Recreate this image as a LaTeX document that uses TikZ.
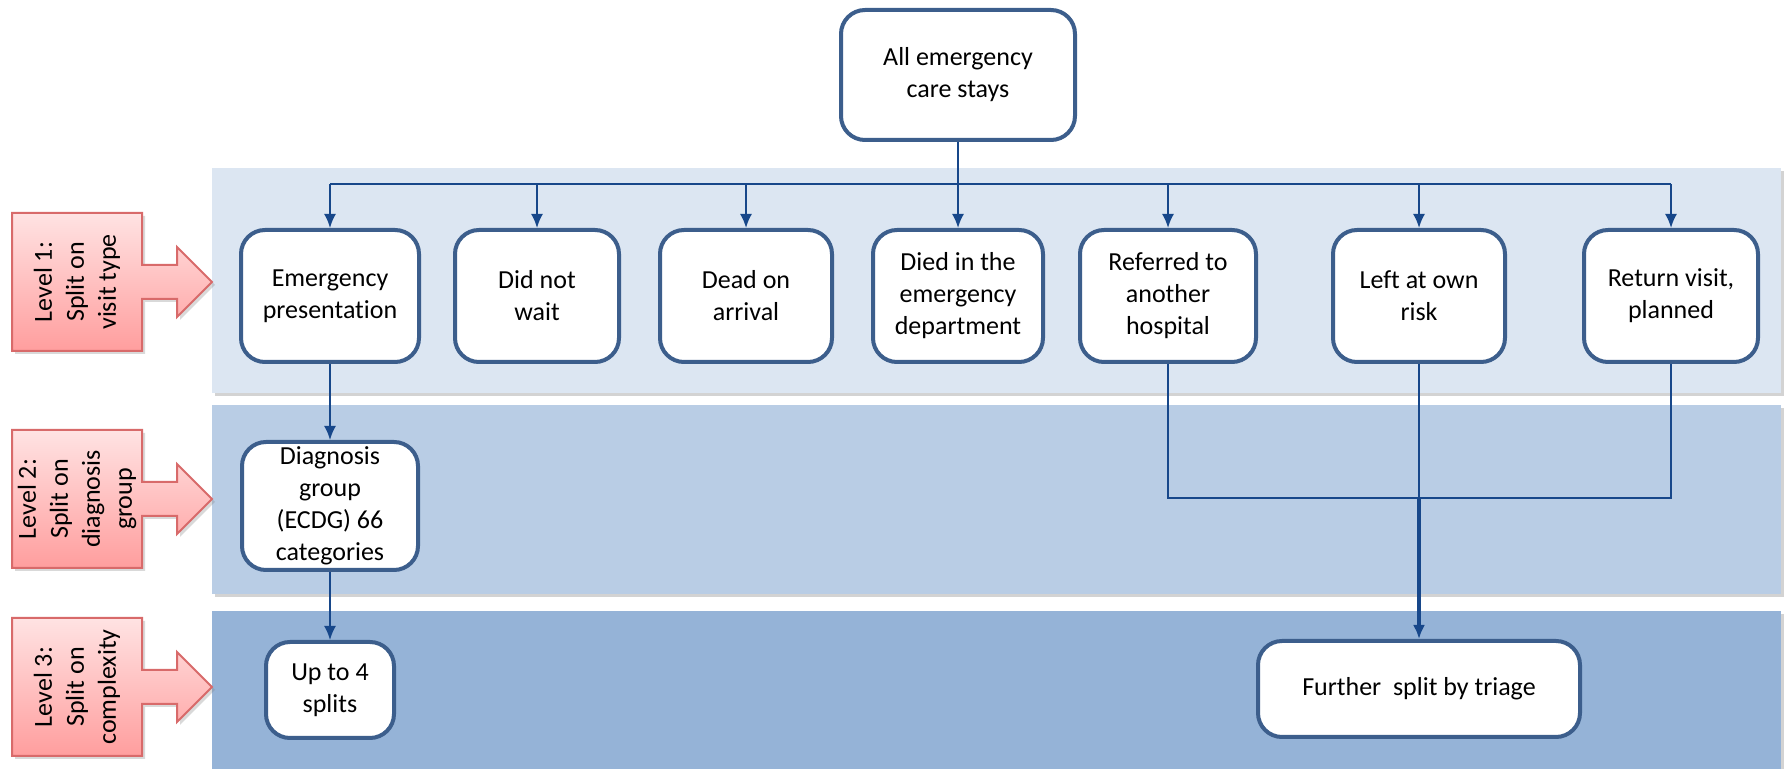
\documentclass[tikz,border=0pt]{standalone}
\usepackage{fontspec}
\setmainfont{Carlito}[Ligatures={NoCommon}]
\usetikzlibrary{arrows.meta,shadows}

\definecolor{bandA}{HTML}{DCE6F2}
\definecolor{bandB}{HTML}{B9CDE5}
\definecolor{bandC}{HTML}{95B3D7}
\definecolor{boxline}{HTML}{3C5E8C}
\definecolor{connline}{HTML}{17478A}
\definecolor{redline}{HTML}{D86A6A}
\definecolor{redtop}{HTML}{FFE3E3}
\definecolor{redbot}{HTML}{FF9E9E}

\begin{document}
\begin{tikzpicture}[x=0.5pt, y=-0.5pt,
    font=\fontsize{13}{16}\selectfont,
    band/.style={drop shadow={shadow xshift=1.5pt, shadow yshift=-1.5pt, opacity=0.35}},
    stay/.style={draw=boxline, line width=2pt, fill=white, rounded corners=12pt, align=center, inner sep=0pt},
    visit/.style={stay, minimum height=66pt},
    lvl/.style={draw=redline, line width=1pt, top color=redtop, bottom color=redbot,
        drop shadow={shadow xshift=1.5pt, shadow yshift=-1.5pt, opacity=0.3}},
    conn/.style={draw=connline, line width=1pt},
    arr/.style={conn, -{Latex[length=7pt, width=6pt]}}]
    \useasboundingbox (0,0) rectangle (1785,769);

    \fill[band, fill=bandA] (212,168) rectangle (1781,393);
    \fill[band, fill=bandB] (212,405) rectangle (1781,594);
    \fill[band, fill=bandC] (212,611) rectangle (1781,769);

    \foreach \y/\txt [count=\i] in {282/{Level 1:\\Split on\\visit type},
        499/{Level 2:\\Split on\\diagnosis\\group}, 687/{Level 3:\\Split on\\complexity}} {
        \path[lvl] (12,\y-69) -- (142,\y-69) -- (142,\y-17) -- (177,\y-17) -- (177,\y-35)
            -- (212,\y) -- (177,\y+35) -- (177,\y+17) -- (142,\y+17) -- (142,\y+69)
            -- (12,\y+69) -- cycle;
        \node[rotate=90, align=center] (lvl\i) at (77,\y) {\txt};
    }

    \node[stay, minimum width=117pt, minimum height=65pt] (all) at (958,75) {All emergency\\care stays};

    \node[visit, minimum width=89pt] (emerg) at (330,296) {Emergency\\presentation};
    \node[visit, minimum width=82pt] (dnw) at (537,296) {Did not\\wait};
    \node[visit, minimum width=86pt] (doa) at (746,296) {Dead on\\arrival};
    \node[visit, minimum width=85pt] (died) at (958,296) {Died in the\\emergency\\department};
    \node[visit, minimum width=88pt] (ref) at (1168,296) {Referred to\\another\\hospital};
    \node[visit, minimum width=86pt] (lar) at (1419,296) {Left at own\\risk};
    \node[visit, minimum width=87pt] (ret) at (1671,296) {Return visit,\\planned};

    \node[stay, minimum width=88pt, minimum height=64pt] (diag) at (330,506) {Diagnosis\\group\\(ECDG) 66\\categories};
    \node[stay, minimum width=64pt, minimum height=48pt] (up4) at (330,690) {Up to 4\\splits};
    \node[stay, minimum width=161pt, minimum height=48pt] (triage) at (1419,689) {Further~ split by triage};

    \coordinate (bus) at (958,184);
    \coordinate (merge) at (1419,498);

    \draw[conn] (all.south) -- (bus);
    \draw[conn] (emerg.north |- bus) -- (ret.north |- bus);
    \foreach \n in {emerg,dnw,doa,died,ref,lar,ret}
        \draw[arr] (\n.north |- bus) -- (\n.north);

    \draw[arr] (emerg.south) -- (diag.north);
    \draw[arr] (diag.south) -- (up4.north);

    \draw[conn] (ref.south) -- (ref.south |- merge) -- (ret.south |- merge) -- (ret.south);
    \draw[conn] (lar.south) -- (merge);
    \draw[arr, line width=1.6pt] (merge) -- (triage.north);
\end{tikzpicture}
\end{document}
